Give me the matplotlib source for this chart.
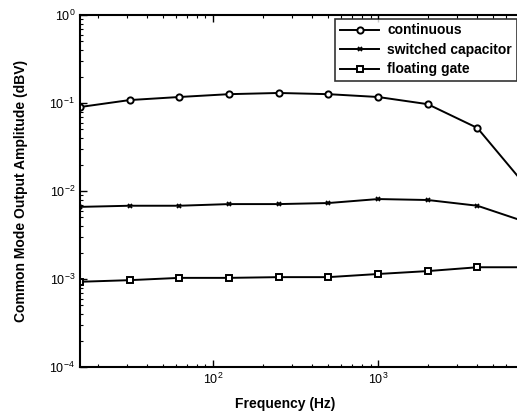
import matplotlib
matplotlib.use("Agg")
import matplotlib.pyplot as plt
from matplotlib.ticker import LogLocator, NullFormatter

freq = [15.625, 31.25, 62.5, 125, 250, 500, 1000, 2000, 4000, 8000]
continuous = [0.090, 0.108, 0.117, 0.126, 0.130, 0.126, 0.117, 0.097, 0.052, 0.011]
switched_cap = [0.0066, 0.0068, 0.0068, 0.0071, 0.0071, 0.0073, 0.0081, 0.0079, 0.0068, 0.0044]
floating_gate = [0.00093, 0.00097, 0.00103, 0.00103, 0.00105, 0.00105, 0.00114, 0.00123, 0.00136, 0.00136]
series_names = ["continuous", "switched capacitor", "floating gate"]

plt.rcParams['font.family'] = ['Liberation Sans', 'DejaVu Sans']

fig = plt.figure(figsize=(5.17, 4.15), dpi=100)
ax = fig.add_axes([80/517, 48/415, 437/517, 352/415])

ax.plot(freq, continuous, '-o', color='black', lw=1.4, ms=4.5, mfc='white', mew=1.4, label=series_names[0])
ax.plot(freq, switched_cap, '-x', color='black', lw=1.4, ms=3.5, mew=1.3, label=series_names[1])
ax.plot(freq, floating_gate, '-s', color='black', lw=1.4, ms=4.5, mfc='white', mew=1.4, label=series_names[2])

ax.set_xscale('log')
ax.set_yscale('log')
ax.set_xlim(15.625, 6950)
ax.set_ylim(1e-4, 1)
ax.yaxis.set_major_locator(LogLocator(base=10, numticks=10))
ax.yaxis.set_minor_locator(LogLocator(base=10, subs=range(2, 10), numticks=20))
ax.yaxis.set_minor_formatter(NullFormatter())
ax.xaxis.set_minor_formatter(NullFormatter())
ax.tick_params(which='both', direction='in', top=True, right=False, labelsize=9)
ax.tick_params(which='major', length=5, width=1)
ax.tick_params(which='minor', length=2.5, width=0.8)
ax.spines['right'].set_visible(False)
for s in ['left', 'bottom', 'top']:
    ax.spines[s].set_linewidth(1.5)

ax.set_xlabel('Frequency (Hz)', fontsize=10, fontweight='bold')
ax.xaxis.set_label_coords(0.47, -0.085)
ax.set_ylabel('Common Mode Output Amplitude (dBV)', fontsize=10, fontweight='bold')
ax.yaxis.set_label_coords(-0.12, 0.5)

leg = ax.legend(loc='upper right', bbox_to_anchor=(1.0, 0.99), frameon=True,
                fancybox=False, edgecolor='black', borderpad=0.35, labelspacing=0.4,
                handlelength=2.8, handletextpad=0.6, borderaxespad=0.0,
                prop={'weight': 'bold', 'size': 10})
leg.get_frame().set_linewidth(1.2)

fig.savefig('out.png', dpi=100)
